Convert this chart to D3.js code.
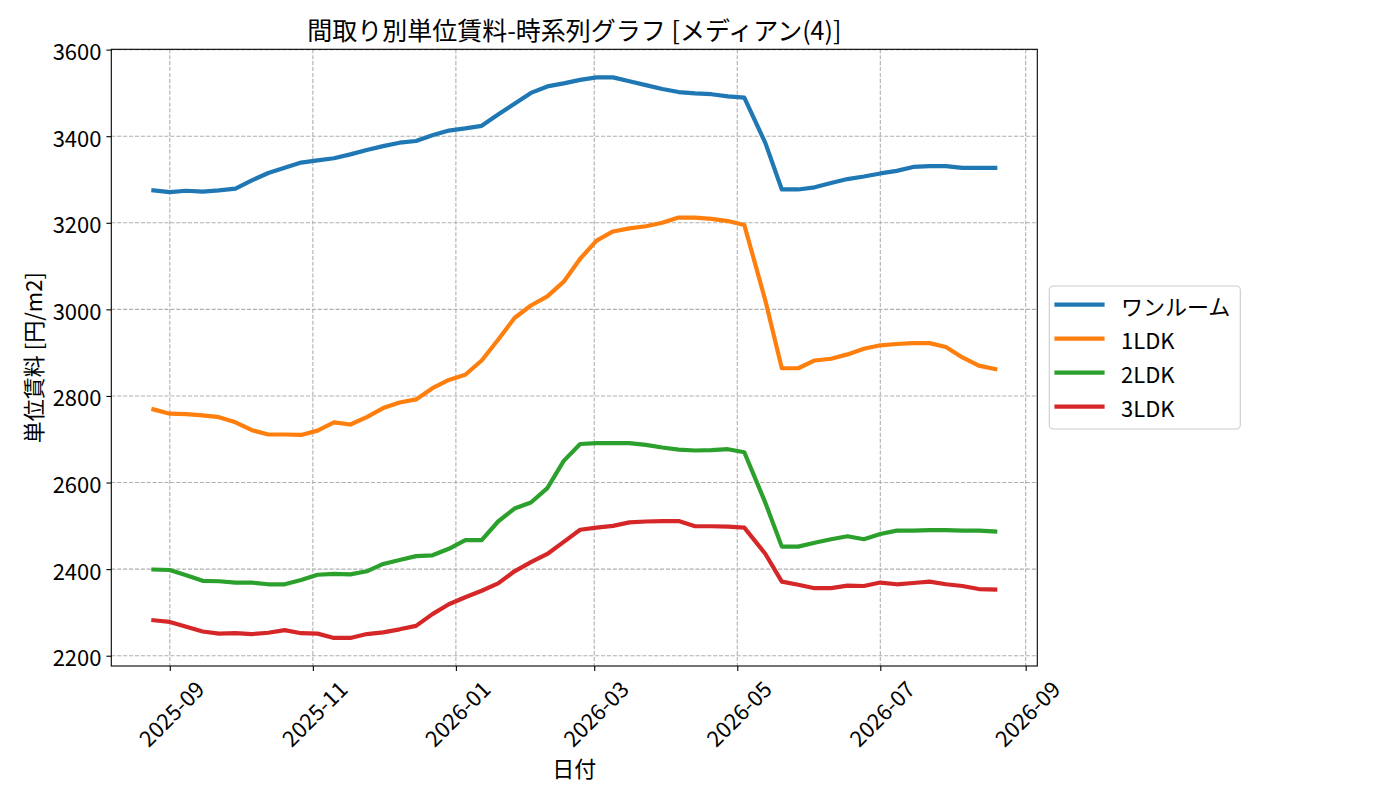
<!DOCTYPE html>
<html>
<head>
<meta charset="utf-8">
<script src="https://cdn.jsdelivr.net/npm/d3@7"></script>
<style>
  html, body { margin: 0; padding: 0; background: #fff; }
  svg { display: block; font-family: "Noto Sans CJK JP", "Noto Sans", sans-serif; }
</style>
</head>
<body>
<svg id="chart" width="1400" height="800"></svg>
<script>
// ---- data ----
const dates = ["2025-08-25","2025-09-01","2025-09-08","2025-09-15","2025-09-22","2025-09-29",
  "2025-10-06","2025-10-13","2025-10-20","2025-10-27","2025-11-03","2025-11-10","2025-11-17",
  "2025-11-24","2025-12-01","2025-12-08","2025-12-15","2025-12-22","2025-12-29","2026-01-05",
  "2026-01-12","2026-01-19","2026-01-26","2026-02-02","2026-02-09","2026-02-16","2026-02-23",
  "2026-03-02","2026-03-09","2026-03-16","2026-03-23","2026-03-30","2026-04-06","2026-04-13",
  "2026-04-20","2026-04-27","2026-05-04","2026-05-13","2026-05-20","2026-05-27","2026-06-03",
  "2026-06-10","2026-06-17","2026-06-24","2026-07-01","2026-07-08","2026-07-15","2026-07-22",
  "2026-07-29","2026-08-05","2026-08-12","2026-08-19"];

const seriesNames = ["ワンルーム", "1LDK", "2LDK", "3LDK"];

const oneRoom = [3275,3271,3274,3272,3275,3279,3298,3315,3327,3339,3344,3349,3358,
  3368,3377,3385,3389,3402,3413,3418,3424,3450,3475,3500,3515,3522,
  3530,3536,3536,3527,3518,3509,3502,3499,3497,3492,3489,3384,
  3277,3277,3282,3292,3301,3307,3314,3320,3329,3331,3331,3327,3327,3327];

const ldk1 = [2769,2759,2758,2755,2751,2739,2721,2711,2711,2710,2720,2739,2734,
  2751,2772,2785,2792,2818,2837,2849,2882,2930,2980,3009,3030,3064,
  3117,3159,3180,3187,3192,3200,3212,3212,3209,3204,3195,3020,
  2864,2864,2882,2886,2896,2909,2917,2920,2922,2922,2913,2889,2870,2862];

const ldk2 = [2399,2398,2386,2373,2372,2369,2369,2365,2365,2375,2387,2389,2388,
  2395,2412,2421,2430,2432,2447,2467,2467,2510,2540,2554,2587,2650,
  2689,2691,2691,2691,2687,2681,2676,2674,2675,2677,2670,2553,
  2452,2452,2461,2469,2476,2469,2481,2489,2489,2490,2490,2489,2489,2487];

const ldk3 = [2282,2278,2267,2256,2251,2252,2250,2253,2259,2252,2251,2241,2241,
  2250,2254,2261,2269,2296,2319,2335,2350,2367,2395,2416,2435,2463,
  2491,2496,2500,2508,2510,2511,2511,2499,2499,2498,2496,2435,
  2371,2364,2356,2356,2362,2361,2369,2365,2368,2371,2365,2361,2354,2353];

const xTickLabels = ["2025-09","2025-11","2026-01","2026-03","2026-05","2026-07","2026-09"];
const yTicks = [2200,2400,2600,2800,3000,3200,3400,3600];

const titleText = "間取り別単位賃料-時系列グラフ [メディアン(4)]";
const xLabel = "日付";
const yLabel = "単位賃料 [円/m2]";

// ---- styles ----
const colors = ["#1f77b4", "#ff7f0e", "#2ca02c", "#d62728"];
const allSeries = [oneRoom, ldk1, ldk2, ldk3];

const plot = { left: 111.3, right: 1037.3, top: 49.3, bottom: 666 };
const svg = d3.select("#chart");
const parse = d3.timeParse("%Y-%m-%d");
const parseM = d3.timeParse("%Y-%m");
const dts = dates.map(parse);

// matplotlib-like 5% margins
const tExt = d3.extent(dts).map(d => +d);
const tPad = (tExt[1] - tExt[0]) * 0.05;
const x = d3.scaleTime()
  .domain([new Date(tExt[0] - tPad), new Date(tExt[1] + tPad)])
  .range([plot.left, plot.right]);

const allVals = allSeries.flat();
const vMin = d3.min(allVals), vMax = d3.max(allVals);
const vPad = (vMax - vMin) * 0.05;
const y = d3.scaleLinear()
  .domain([vMin - vPad, vMax + vPad])
  .range([plot.bottom, plot.top]);

const FS = 22;
const xTicks = xTickLabels.map(parseM);

// grid
const grid = svg.append("g");
grid.selectAll(".gx").data(xTicks).join("line")
  .attr("x1", d => x(d)).attr("x2", d => x(d))
  .attr("y1", plot.top).attr("y2", plot.bottom)
  .attr("stroke", "#b0b0b0").attr("stroke-width", 1.1).attr("stroke-dasharray", "4.1,1.8");
grid.selectAll(".gy").data(yTicks).join("line")
  .attr("x1", plot.left).attr("x2", plot.right)
  .attr("y1", d => y(d)).attr("y2", d => y(d))
  .attr("stroke", "#b0b0b0").attr("stroke-width", 1.1).attr("stroke-dasharray", "4.1,1.8");

// lines
svg.append("clipPath").attr("id", "clip").append("rect")
  .attr("x", plot.left).attr("y", plot.top)
  .attr("width", plot.right - plot.left).attr("height", plot.bottom - plot.top);

const line = d3.line().x((d, i) => x(dts[i])).y(d => y(d));
const lines = svg.append("g").attr("clip-path", "url(#clip)");
allSeries.forEach((s, k) => {
  lines.append("path").datum(s)
    .attr("d", line)
    .attr("fill", "none")
    .attr("stroke", colors[k])
    .attr("stroke-width", 4.2)
    .attr("stroke-linejoin", "round")
    .attr("stroke-linecap", "square");
});

// axes frame
svg.append("rect")
  .attr("x", plot.left).attr("y", plot.top)
  .attr("width", plot.right - plot.left).attr("height", plot.bottom - plot.top)
  .attr("fill", "none").attr("stroke", "#000").attr("stroke-width", 1.1);

// x axis
const xAxis = d3.axisBottom(x).tickValues(xTicks).tickFormat(d3.timeFormat("%Y-%m"))
  .tickSize(4.9).tickSizeOuter(0);
const gx = svg.append("g").attr("transform", `translate(0,${plot.bottom})`).call(xAxis);
gx.select(".domain").remove();
gx.selectAll(".tick line").attr("stroke", "#000").attr("stroke-width", 1.1);
gx.selectAll(".tick text")
  .attr("x", 0).attr("y", 0).attr("dy", null)
  .attr("fill", "#000")
  .style("font-size", FS + "px")
  .style("font-family", '"Noto Sans CJK JP", sans-serif')
  .attr("text-anchor", "middle")
  .attr("dominant-baseline", "central")
  .attr("transform", "translate(0,46.5) rotate(-45)");

// y axis
const yAxis = d3.axisLeft(y).tickValues(yTicks).tickFormat(d3.format("d"))
  .tickSize(4.9).tickPadding(4.9).tickSizeOuter(0);
const gy = svg.append("g").attr("transform", `translate(${plot.left},0)`).call(yAxis);
gy.select(".domain").remove();
gy.selectAll(".tick line").attr("stroke", "#000").attr("stroke-width", 1.1);
gy.selectAll(".tick text")
  .attr("fill", "#000")
  .attr("dy", null)
  .attr("dominant-baseline", "central")
  .style("font-size", FS + "px")
  .style("font-family", '"Noto Sans CJK JP", sans-serif');

// title and labels
svg.append("text")
  .attr("x", (plot.left + plot.right) / 2).attr("y", 29)
  .attr("text-anchor", "middle").attr("dominant-baseline", "central")
  .style("font-size", "25px").attr("fill", "#000")
  .text(titleText);

svg.append("text")
  .attr("x", (plot.left + plot.right) / 2).attr("y", 767)
  .attr("text-anchor", "middle").attr("dominant-baseline", "central")
  .style("font-size", FS + "px").attr("fill", "#000")
  .text(xLabel);

svg.append("text")
  .attr("transform", `translate(32,${(plot.top + plot.bottom) / 2}) rotate(-90)`)
  .attr("text-anchor", "middle").attr("dominant-baseline", "central")
  .style("font-size", FS + "px").attr("fill", "#000")
  .text(yLabel);

// legend
const lg = svg.append("g");
lg.append("rect")
  .attr("x", 1049.3).attr("y", 286).attr("width", 191).attr("height", 143)
  .attr("rx", 4).attr("ry", 4)
  .attr("fill", "#fff").attr("fill-opacity", 0.8)
  .attr("stroke", "#cccccc").attr("stroke-width", 1.1);
const rowY = d3.scaleLinear().domain([0, seriesNames.length - 1]).range([304.7, 406.7]);
seriesNames.forEach((name, k) => {
  lg.append("line")
    .attr("x1", 1056.5).attr("x2", 1102.5)
    .attr("y1", rowY(k)).attr("y2", rowY(k))
    .attr("stroke", colors[k]).attr("stroke-width", 4.2).attr("stroke-linecap", "square");
  lg.append("text")
    .attr("x", 1121).attr("y", rowY(k))
    .attr("dominant-baseline", "central")
    .style("font-size", FS + "px").attr("fill", "#000")
    .text(name);
});
</script>
</body>
</html>
